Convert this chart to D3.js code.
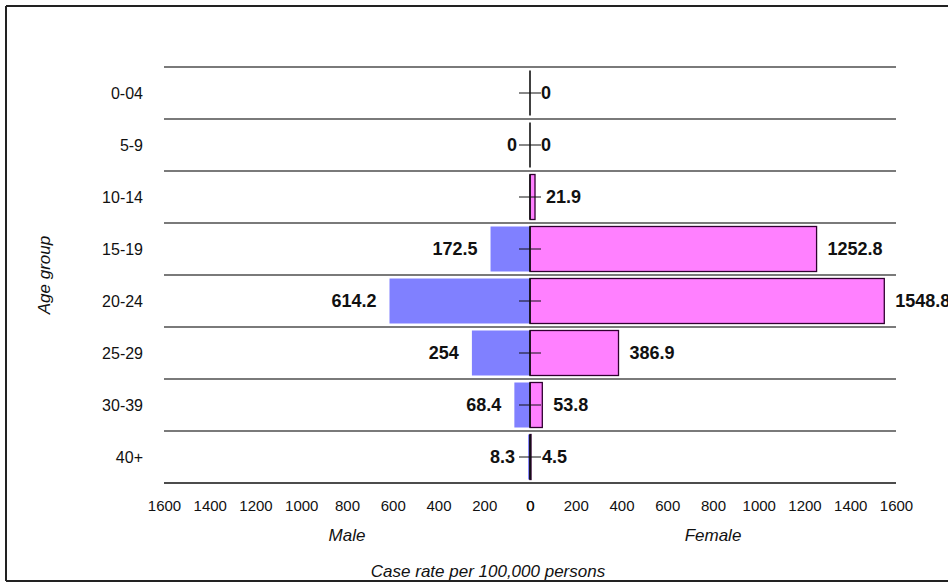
<!DOCTYPE html>
<html>
<head>
<meta charset="utf-8">
<script src="https://cdn.jsdelivr.net/npm/d3@7"></script>
<style>
  html, body { margin: 0; padding: 0; background: #fff; }
  svg { display: block; }
  text { font-family: Arial, "Liberation Sans", sans-serif; }
</style>
</head>
<body>
<svg id="chart" width="948" height="582"></svg>
<script>
// ---- data ----
const ageGroups = ["0-04", "5-9", "10-14", "15-19", "20-24", "25-29", "30-39", "40+"];
const maleRates = [null, 0, null, 172.5, 614.2, 254, 68.4, 8.3];
const femaleRates = [0, 0, 21.9, 1252.8, 1548.8, 386.9, 53.8, 4.5];
const tickValues = [0, 200, 400, 600, 800, 1000, 1200, 1400, 1600];

const svg = d3.select("#chart");
const W = 948, H = 582;

// outer frame
svg.append("line").attr("x1", 6).attr("x2", W).attr("y1", 6).attr("y2", 6)
  .attr("stroke", "#222").attr("stroke-width", 2);
svg.append("line").attr("x1", 6).attr("x2", 6).attr("y1", 6).attr("y2", 581)
  .attr("stroke", "#222").attr("stroke-width", 2);
svg.append("line").attr("x1", 6).attr("x2", W).attr("y1", 581).attr("y2", 581)
  .attr("stroke", "#222").attr("stroke-width", 2);

const cx = 530, halfW = 366;
const xF = d3.scaleLinear().domain([0, 1600]).range([cx, cx + halfW]);
const xM = d3.scaleLinear().domain([0, 1600]).range([cx, cx - halfW]);
const y = d3.scaleBand().domain(ageGroups).range([67, 483]).padding(0);
const step = y.step();
const inset = 3.5;

// grid lines at row boundaries
const bounds = ageGroups.map(g => y(g)).concat([y(ageGroups[ageGroups.length - 1]) + step]);
svg.append("g").selectAll("line").data(bounds).join("line")
  .attr("x1", xM(1600)).attr("x2", xF(1600))
  .attr("y1", d => d).attr("y2", d => d)
  .attr("stroke", (d, i) => i === bounds.length - 1 ? "#111" : "#7a7a7a")
  .attr("stroke-width", (d, i) => i === bounds.length - 1 ? 1.5 : 2);

// male bars
svg.append("g").selectAll("rect").data(ageGroups.map((g, i) => ({ g, v: maleRates[i] })).filter(d => d.v !== null && d.v > 0))
  .join("rect")
  .attr("x", d => xM(d.v)).attr("width", d => xM(0) - xM(d.v))
  .attr("y", d => y(d.g) + inset).attr("height", step - 2 * inset)
  .attr("fill", "#8080ff");

// female bars
svg.append("g").selectAll("rect").data(ageGroups.map((g, i) => ({ g, v: femaleRates[i] })).filter(d => d.v > 0))
  .join("rect")
  .attr("x", d => xF(0)).attr("width", d => xF(d.v) - xF(0))
  .attr("y", d => y(d.g) + inset).attr("height", step - 2 * inset)
  .attr("fill", "#ff80ff").attr("stroke", "#300030").attr("stroke-width", 1.3);

// zero baseline segment in each row (bar edge at 0)
svg.append("g").selectAll("line").data(ageGroups).join("line")
  .attr("x1", xF(0)).attr("x2", xF(0))
  .attr("y1", d => y(d) + inset).attr("y2", d => y(d) + step - inset)
  .attr("stroke", "#111").attr("stroke-width", 1.6);

// cross marks at row centre
svg.append("g").selectAll("line").data(ageGroups).join("line")
  .attr("x1", cx - 11).attr("x2", cx + 11)
  .attr("y1", d => y(d) + step / 2).attr("y2", d => y(d) + step / 2)
  .attr("stroke", "#111").attr("stroke-width", 1);

// data labels
svg.append("g").selectAll("text").data(ageGroups.map((g, i) => ({ g, v: femaleRates[i] })))
  .join("text")
  .attr("x", d => xF(d.v) + 11).attr("y", d => y(d.g) + step / 2)
  .attr("dy", "0.36em").attr("text-anchor", "start")
  .attr("font-size", 18).attr("font-weight", "bold").attr("fill", "#111")
  .text(d => String(d.v));
svg.append("g").selectAll("text").data(ageGroups.map((g, i) => ({ g, v: maleRates[i] })).filter(d => d.v !== null))
  .join("text")
  .attr("x", d => xM(d.v) - 13).attr("y", d => y(d.g) + step / 2)
  .attr("dy", "0.36em").attr("text-anchor", "end")
  .attr("font-size", 18).attr("font-weight", "bold").attr("fill", "#111")
  .text(d => String(d.v));

// category labels
svg.append("g").selectAll("text").data(ageGroups).join("text")
  .attr("x", 143).attr("y", d => y(d) + step / 2).attr("dy", "0.36em")
  .attr("text-anchor", "end").attr("font-size", 16).attr("fill", "#111")
  .text(d => d);

// axes (tick labels)
const axF = d3.axisBottom(xF).tickValues(tickValues).tickSize(0).tickPadding(0).tickFormat(d3.format("d"));
const axM = d3.axisBottom(xM).tickValues(tickValues).tickSize(0).tickPadding(0).tickFormat(d3.format("d"));
[axF, axM].forEach(ax => {
  const g = svg.append("g").attr("transform", "translate(0,500)").call(ax);
  g.select(".domain").remove();
  g.selectAll("text").attr("font-size", 15).attr("fill", "#111")
    .attr("font-family", "Arial, 'Liberation Sans', sans-serif");
});

// axis titles
svg.append("text").attr("x", (xM(0) + xM(1600)) / 2).attr("y", 541)
  .attr("text-anchor", "middle").attr("font-size", 17).attr("font-style", "italic").attr("fill", "#111")
  .text("Male");
svg.append("text").attr("x", (xF(0) + xF(1600)) / 2).attr("y", 541)
  .attr("text-anchor", "middle").attr("font-size", 17).attr("font-style", "italic").attr("fill", "#111")
  .text("Female");
svg.append("text").attr("x", 488).attr("y", 577)
  .attr("text-anchor", "middle").attr("font-size", 17).attr("font-style", "italic").attr("fill", "#111")
  .text("Case rate per 100,000 persons");
svg.append("text").attr("transform", "translate(50,275) rotate(-90)")
  .attr("text-anchor", "middle").attr("font-size", 17).attr("font-style", "italic").attr("fill", "#111")
  .text("Age group");
</script>
</body>
</html>
